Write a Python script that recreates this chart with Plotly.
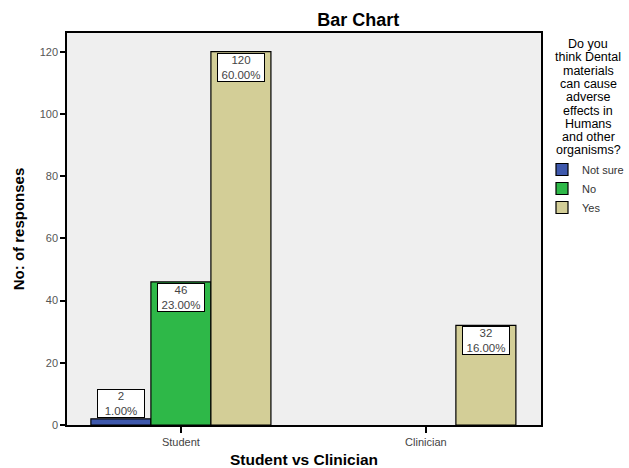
import plotly.graph_objects as go

categories = ["Student", "Clinician"]
series_names = ["Not sure", "No", "Yes"]
not_sure = [2, 0]
no = [46, 0]
yes = [120, 32]
series_values = [not_sure, no, yes]
colors = ["#3E58AC", "#2EB848", "#D3CE97"]
y_ticks = [0, 20, 40, 60, 80, 100, 120]
legend_title_lines = ["Do you", "think Dental", "materials", "can cause", "adverse",
                      "effects in", "Humans", "and other", "organisms?"]

total = sum(sum(v) for v in series_values)
bargap = 0.265
n = len(series_values)
bw = (1 - bargap) / n

# plot-area pixel frame (for converting positions to paper coords)
L, R, T, B = 67, 541, 33, 425
W, H = 629, 468


def px(xp):
    return (xp - L) / (R - L)


def py(yp):
    return 1 - (yp - T) / (B - T)


fig = go.Figure()
for name, vals, col in zip(series_names, series_values, colors):
    fig.add_trace(go.Bar(
        name=name, x=categories, y=[v if v else None for v in vals],
        marker=dict(color=col, line=dict(color="black", width=1.2)),
    ))

font = "Liberation Sans, Arial, sans-serif"
for i, vals in enumerate(series_values):
    for j, v in enumerate(vals):
        if not v:
            continue
        pct = 100.0 * v / total
        small = v < 10
        fig.add_annotation(
            x=j + (i - (n - 1) / 2) * bw, y=v, xref="x", yref="y",
            text=f"{v}<br>{pct:.2f}%", showarrow=False,
            yanchor="bottom" if small else "top",
            yshift=1 if small else -1,
            bgcolor="white", bordercolor="black", borderwidth=1, borderpad=0,
            font=dict(family=font, size=11.5, color="#444"),
            width=46,
        )

# legend title, one annotation per line for SPSS-like tight spacing
for k, line in enumerate(legend_title_lines):
    fig.add_annotation(
        x=px(588), y=py(44 + k * 13.3), xref="paper", yref="paper",
        text=line, showarrow=False, xanchor="center", yanchor="middle",
        font=dict(family=font, size=12.5, color="black"),
    )

fig.update_layout(
    width=W, height=H,
    margin=dict(l=L, r=W - R, t=T, b=H - B, autoexpand=False),
    paper_bgcolor="white", plot_bgcolor="#EFEFEF",
    barmode="group", bargap=bargap, bargroupgap=0,
    font=dict(family=font, color="#444"),
    title=dict(text="<b>Bar Chart</b>", x=0.5695, xref="container", xanchor="center",
               y=1 - 20 / H, yref="container", yanchor="middle",
               font=dict(size=18, color="black", family=font)),
    showlegend=True,
    legend=dict(
        x=px(542), xanchor="left",
        y=py(155), yanchor="top",
        font=dict(size=11, color="#333", family=font),
        bgcolor="rgba(0,0,0,0)", tracegroupgap=0, itemwidth=30,
        traceorder="normal", borderwidth=0,
    ),
    xaxis=dict(
        type="category", range=[-0.465, 1.47], automargin=False,
        showline=True, linecolor="black", linewidth=1.5, mirror=True,
        ticks="outside", ticklen=6, tickwidth=2, tickcolor="black",
        tickfont=dict(size=11, color="#444"),
        title=dict(text="<b>Student vs Clinician</b>", standoff=12,
                   font=dict(size=15.5, color="black", family=font)),
    ),
    yaxis=dict(
        range=[0, 126], tickvals=y_ticks, automargin=False,
        showgrid=False, zeroline=False,
        showline=True, linecolor="black", linewidth=1.5, mirror=True,
        ticks="outside", ticklen=5, tickwidth=2, tickcolor="black",
        tickfont=dict(size=11, color="#555"),
        title=dict(text="<b>No: of responses</b>", standoff=11,
                   font=dict(size=15, color="black", family=font)),
    ),
)

fig.write_html("out.html", config={"displayModeBar": False},
               post_script="document.body.style.margin='0';")
